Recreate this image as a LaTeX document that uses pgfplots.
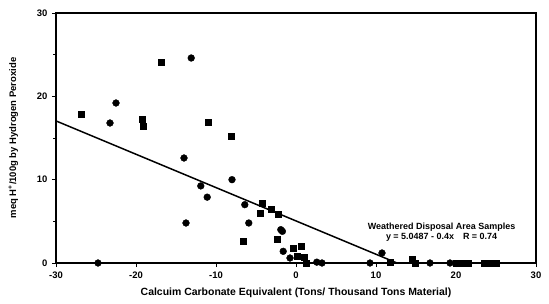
\documentclass[border=0pt]{standalone}
\usepackage{pgfplots}
\pgfplotsset{compat=1.18}
\usepackage{fontspec}
\setmainfont{Liberation Sans}
\begin{document}
\begin{tikzpicture}
\begin{axis}[
  at={(0,0)}, anchor=south west,
  scale only axis, width=480bp, height=250bp,
  xmin=-30, xmax=30, ymin=0, ymax=30,
  xtick={-30,-20,...,30}, ytick={0,10,20,30},
  minor ytick={5,15,25},
  tick align=outside, major tick length=4bp, minor tick length=2.5bp,
  xtick pos=bottom, ytick pos=left,
  axis line style={line width=1.6pt},
  tick style={line width=1pt, black},
  /pgf/number format/assume math mode=true,
  ticklabel style={font=\fontsize{9.5}{10}\selectfont\bfseries},
  yticklabel style={xshift=-1bp},
  xticklabel style={yshift=-1bp},
  xlabel={Calcuim Carbonate Equivalent (Tons/ Thousand Tons Material)},
  ylabel={meq H\textsuperscript{+}/100g by Hydrogen Peroxide},
  xlabel style={font=\fontsize{10.5}{11}\selectfont\bfseries, yshift=-3bp},
  ylabel style={font=\fontsize{9.5}{10}\selectfont\bfseries, yshift=12bp},
  clip=false,
]
\addplot[only marks, mark=square*, mark size=3bp, black] coordinates {
(-26.9,17.8) (-16.9,24.1) (-19.25,17.3) (-19.1,16.4) (-11,16.9) (-8.1,15.2)
(-6.6,2.6) (-4.25,7.2) (-4.5,6.0) (-3.1,6.4) (-2.25,5.8) (-2.4,2.8)
(-0.4,1.8) (0.6,2.0) (0.1,0.8) (1.0,0.7) (1.25,0) (11.75,0.1) (14.5,0.4)
(14.9,0) (20,0) (20.5,0) (21,0) (21.5,0) (23.5,0) (24,0) (24.5,0) (25,0)
};
\addplot[only marks, mark=*, mark size=3.4bp, black] coordinates {
(-22.5,19.2) (-23.25,16.8) (-13.1,24.6) (-14,12.6) (-11.9,9.25) (-11.1,7.9)
(-8,10) (-13.75,4.8) (-6.4,7.0) (-5.9,4.8) (-1.9,4.0) (-1.7,3.8) (-1.6,1.4)
(-0.75,0.6) (10.75,1.2) (-24.75,0) (2.6,0.1) (3.25,0) (9.25,0) (16.75,0) (19.25,0)
};
\addplot[black, line width=1.5pt] coordinates {(-30,17.05) (12.62,0)};
\node[font=\fontsize{9}{10}\selectfont\bfseries, align=center, inner sep=0pt]
  at (axis cs:18.2,3.7) {Weathered Disposal Area Samples\\[1pt] y = 5.0487 - 0.4x\quad R = 0.74};
\end{axis}
\useasboundingbox (-56bp,-41bp) rectangle (493bp,263bp);
\end{tikzpicture}
\end{document}
